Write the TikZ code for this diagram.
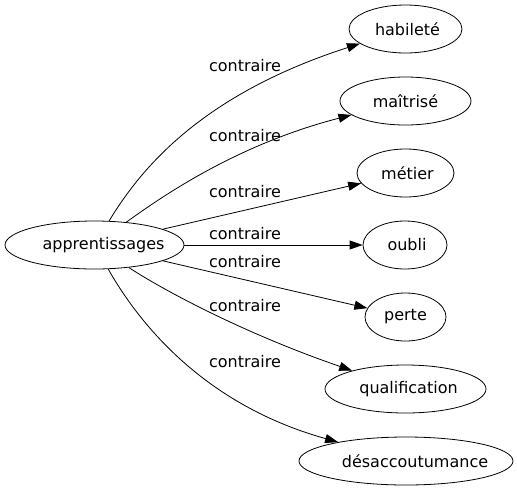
\documentclass[tikz,border=0pt]{standalone}
\usepackage{fontspec}
\setmainfont{DejaVu Sans}
\usetikzlibrary{shapes.geometric,arrows.meta}
\newcommand{\shiftedtext}[2]{\hspace*{#1pt}#2\hspace*{-#1pt}}
\begin{document}
\begin{tikzpicture}[x=1pt,y=-1pt,
  word/.style={draw,ellipse,inner sep=0pt,line width=0.8pt,minimum height=48pt,font=\fontsize{16}{19}\selectfont},
  lbl/.style={inner sep=0pt,font=\fontsize{16}{19}\selectfont},
  rel/.style={line width=0.8pt,-{Triangle[length=13pt,width=9pt]}}]
\useasboundingbox (0,0) rectangle (517,491);
\node[word,minimum width=179pt] (a) at (94.5,245) {\shiftedtext{9}{apprentissages}};
\node[word,minimum width=113pt] (h) at (405.5,29) {\shiftedtext{2}{habileté}};
\node[word,minimum width=131pt] (m) at (405.5,101) {maîtrisé};
\node[word,minimum width=97pt] (t) at (405.5,173) {\shiftedtext{2}{métier}};
\node[word,minimum width=84pt] (o) at (405,245) {\shiftedtext{2}{oubli}};
\node[word,minimum width=81pt] (p) at (405.5,317) {perte};
\node[word,minimum width=161pt] (q) at (405.5,389) {\shiftedtext{3}{qualification}};
\node[word,minimum width=214pt] (d) at (406,461) {\shiftedtext{9}{désaccoutumance}};
\node[lbl] (l1) at (245,66) {contraire};
\node[lbl] (l2) at (245,136) {contraire};
\node[lbl] (l3) at (245,192) {contraire};
\node[lbl] (l4) at (245,234) {contraire};
\node[lbl] (l5) at (245,262) {contraire};
\node[lbl] (l6) at (245,306) {contraire};
\node[lbl] (l7) at (245,362) {contraire};
\draw[rel] (a) .. controls (140,170) and (200,95) .. (h);
\draw[rel] (a) .. controls (160,198) and (235,145) .. (m);
\draw[rel] (a) -- (t);
\draw[rel] (a) -- (o);
\draw[rel] (a) -- (p);
\draw[rel] (a) .. controls (160,288) and (240,332) .. (q);
\draw[rel] (a) .. controls (140,325) and (205,405) .. (d);
\end{tikzpicture}
\end{document}
